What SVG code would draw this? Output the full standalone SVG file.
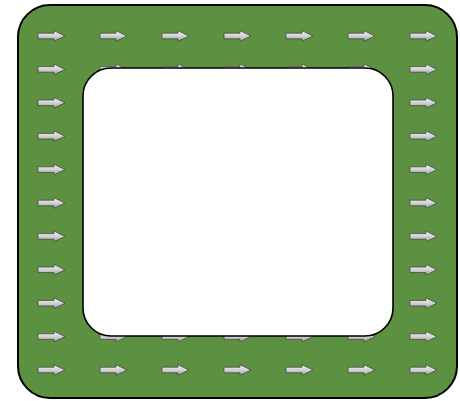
<svg xmlns="http://www.w3.org/2000/svg" xmlns:xlink="http://www.w3.org/1999/xlink" width="460" height="401" viewBox="0 0 460 401">
<defs>
<linearGradient id="ag" x1="0" y1="0" x2="0" y2="1">
<stop offset="0" stop-color="#f4f4f4"/>
<stop offset="0.5" stop-color="#d2d2d2"/>
<stop offset="1" stop-color="#a0a0a0"/>
</linearGradient>
<path id="arr" d="M0,-2.8 L16,-2.8 L16,-5.3 L27,0 L16,5.3 L16,2.8 L0,2.8 Z" fill="url(#ag)" stroke="#3e3e3e" stroke-width="0.7"/>
</defs>
<style>
.outer{fill:#5b9141;stroke:#000;stroke-width:2}
.inner{fill:#fff;stroke:#000;stroke-width:1.6}
</style>
<rect id="track" class="outer" x="18" y="5" width="439" height="393" rx="32" ry="32"/>
<g id="arrows">
<use xlink:href="#arr" x="38" y="36"/><use xlink:href="#arr" x="100" y="36"/><use xlink:href="#arr" x="162" y="36"/><use xlink:href="#arr" x="224" y="36"/><use xlink:href="#arr" x="286" y="36"/><use xlink:href="#arr" x="348" y="36"/><use xlink:href="#arr" x="410" y="36"/>
<use xlink:href="#arr" x="38" y="69.4"/><use xlink:href="#arr" x="100" y="69.4"/><use xlink:href="#arr" x="162" y="69.4"/><use xlink:href="#arr" x="224" y="69.4"/><use xlink:href="#arr" x="286" y="69.4"/><use xlink:href="#arr" x="348" y="69.4"/><use xlink:href="#arr" x="410" y="69.4"/>
<use xlink:href="#arr" x="38" y="102.8"/><use xlink:href="#arr" x="410" y="102.8"/>
<use xlink:href="#arr" x="38" y="136.2"/><use xlink:href="#arr" x="410" y="136.2"/>
<use xlink:href="#arr" x="38" y="169.6"/><use xlink:href="#arr" x="410" y="169.6"/>
<use xlink:href="#arr" x="38" y="203"/><use xlink:href="#arr" x="410" y="203"/>
<use xlink:href="#arr" x="38" y="236.4"/><use xlink:href="#arr" x="410" y="236.4"/>
<use xlink:href="#arr" x="38" y="269.8"/><use xlink:href="#arr" x="410" y="269.8"/>
<use xlink:href="#arr" x="38" y="303.2"/><use xlink:href="#arr" x="410" y="303.2"/>
<use xlink:href="#arr" x="38" y="336.6"/><use xlink:href="#arr" x="100" y="336.6"/><use xlink:href="#arr" x="162" y="336.6"/><use xlink:href="#arr" x="224" y="336.6"/><use xlink:href="#arr" x="286" y="336.6"/><use xlink:href="#arr" x="348" y="336.6"/><use xlink:href="#arr" x="410" y="336.6"/>
<use xlink:href="#arr" x="38" y="370"/><use xlink:href="#arr" x="100" y="370"/><use xlink:href="#arr" x="162" y="370"/><use xlink:href="#arr" x="224" y="370"/><use xlink:href="#arr" x="286" y="370"/><use xlink:href="#arr" x="348" y="370"/><use xlink:href="#arr" x="410" y="370"/>
</g>
<rect id="hole" class="inner" x="83" y="68" width="310" height="268" rx="28" ry="28"/>
</svg>
